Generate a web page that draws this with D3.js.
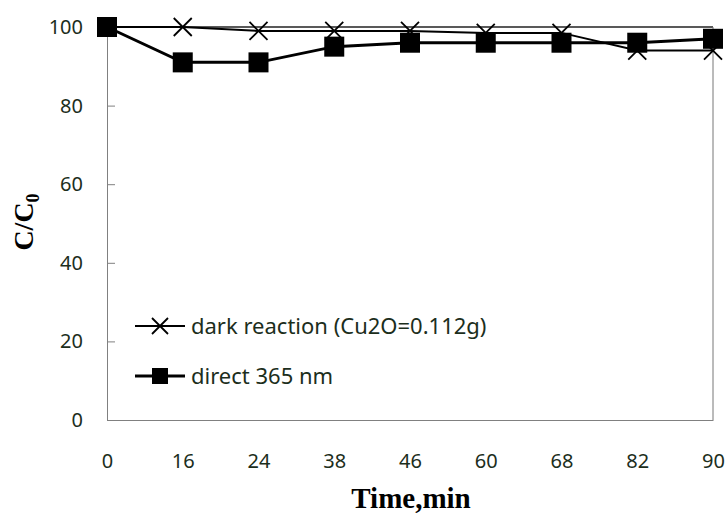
<!DOCTYPE html>
<html>
<head>
<meta charset="utf-8">
<script src="https://cdn.jsdelivr.net/npm/d3@7"></script>
<style>
  html, body { margin: 0; padding: 0; background: #fff; }
  svg { display: block; }
</style>
</head>
<body>
<div id="chart"></div>
<script>
const times = ['0', '16', '24', '38', '46', '60', '68', '82', '90'];
const darkReaction = [100, 100, 99, 99, 99, 98.5, 98.5, 94, 94];
const direct365 = [100, 91, 91, 95, 96, 96, 96, 96, 97];
const yTicks = [0, 20, 40, 60, 80, 100];
const seriesNames = ['dark reaction (Cu2O=0.112g)', 'direct 365 nm'];

const width = 728, height = 514;
const plotLeft = 107, plotRight = 713, plotTop = 27, plotBottom = 420;
const textColor = '#1c2e1c';
const sansFont = '"Noto Sans", sans-serif';
const serifFont = '"Liberation Serif", "Times New Roman", serif';

const svg = d3.select('#chart').append('svg')
  .attr('width', width)
  .attr('height', height);

const x = d3.scalePoint().domain(times).range([plotLeft, plotRight]);
const y = d3.scaleLinear().domain([0, 100]).range([plotBottom, plotTop]);

// frame: top and right borders
svg.append('line')
  .attr('x1', plotLeft).attr('x2', plotRight)
  .attr('y1', plotTop).attr('y2', plotTop)
  .attr('stroke', '#222').attr('stroke-width', 1.5);
svg.append('line')
  .attr('x1', plotRight).attr('x2', plotRight)
  .attr('y1', plotTop).attr('y2', plotBottom)
  .attr('stroke', '#777').attr('stroke-width', 1);

// y axis
const yAxis = svg.append('g')
  .attr('transform', `translate(${plotLeft},0)`)
  .call(d3.axisLeft(y).tickValues(yTicks).tickSize(-8).tickPadding(24));
yAxis.select('.domain').attr('stroke', '#808080');
yAxis.selectAll('line').attr('stroke', '#808080');
yAxis.selectAll('text')
  .attr('font-family', sansFont).attr('font-size', 20).attr('fill', textColor);

// x axis
const xAxis = svg.append('g')
  .attr('transform', `translate(0,${plotBottom})`)
  .call(d3.axisBottom(x).tickSize(0).tickPadding(34));
xAxis.select('.domain').attr('stroke', '#808080');
xAxis.selectAll('text')
  .attr('font-family', sansFont).attr('font-size', 20).attr('fill', textColor);

// axis titles
svg.append('text')
  .attr('x', 411).attr('y', 508)
  .attr('text-anchor', 'middle')
  .attr('font-family', serifFont)
  .attr('font-weight', 'bold').attr('font-size', 29)
  .text('Time,min');

const yTitle = svg.append('text')
  .attr('transform', 'translate(33,222) rotate(-90)')
  .attr('text-anchor', 'middle')
  .attr('font-family', serifFont)
  .attr('font-weight', 'bold').attr('font-size', 28);
yTitle.append('tspan').text('C/C');
yTitle.append('tspan').attr('font-size', 18).attr('dy', 6).text('0');

const line = d3.line().x((d, i) => x(times[i])).y(d => y(d));

// dark reaction series
svg.append('path')
  .datum(darkReaction)
  .attr('d', line)
  .attr('fill', 'none').attr('stroke', '#000').attr('stroke-width', 2);

const cross = (g, cx, cy, s) => {
  g.append('path')
    .attr('d', `M${cx - s},${cy - s}L${cx + s},${cy + s}M${cx - s},${cy + s}L${cx + s},${cy - s}`)
    .attr('stroke', '#000').attr('stroke-width', 1.8).attr('fill', 'none');
};

const darkMarks = svg.append('g');
darkReaction.forEach((v, i) => cross(darkMarks, x(times[i]), y(v), 9));

// direct 365 nm series
svg.append('path')
  .datum(direct365)
  .attr('d', line)
  .attr('fill', 'none').attr('stroke', '#000').attr('stroke-width', 3);

svg.append('g').selectAll('rect')
  .data(direct365)
  .enter()
  .append('rect')
  .attr('x', (d, i) => x(times[i]) - 10)
  .attr('y', d => y(d) - 10)
  .attr('width', 20).attr('height', 20)
  .attr('fill', '#000');

// legend
const legend = svg.append('g');
const legendY = [326, 376];
legendY.forEach((ly, i) => {
  legend.append('line')
    .attr('x1', 135).attr('x2', 185)
    .attr('y1', ly).attr('y2', ly)
    .attr('stroke', '#000').attr('stroke-width', i === 0 ? 2 : 3);
  if (i === 0) {
    cross(legend, 160, ly, 8);
  } else {
    legend.append('rect')
      .attr('x', 152).attr('y', ly - 8)
      .attr('width', 16).attr('height', 16)
      .attr('fill', '#000');
  }
  legend.append('text')
    .attr('x', 191).attr('y', ly)
    .attr('dy', '0.35em')
    .attr('font-family', sansFont).attr('font-size', 22)
    .attr('fill', textColor)
    .text(seriesNames[i]);
});
</script>
</body>
</html>
